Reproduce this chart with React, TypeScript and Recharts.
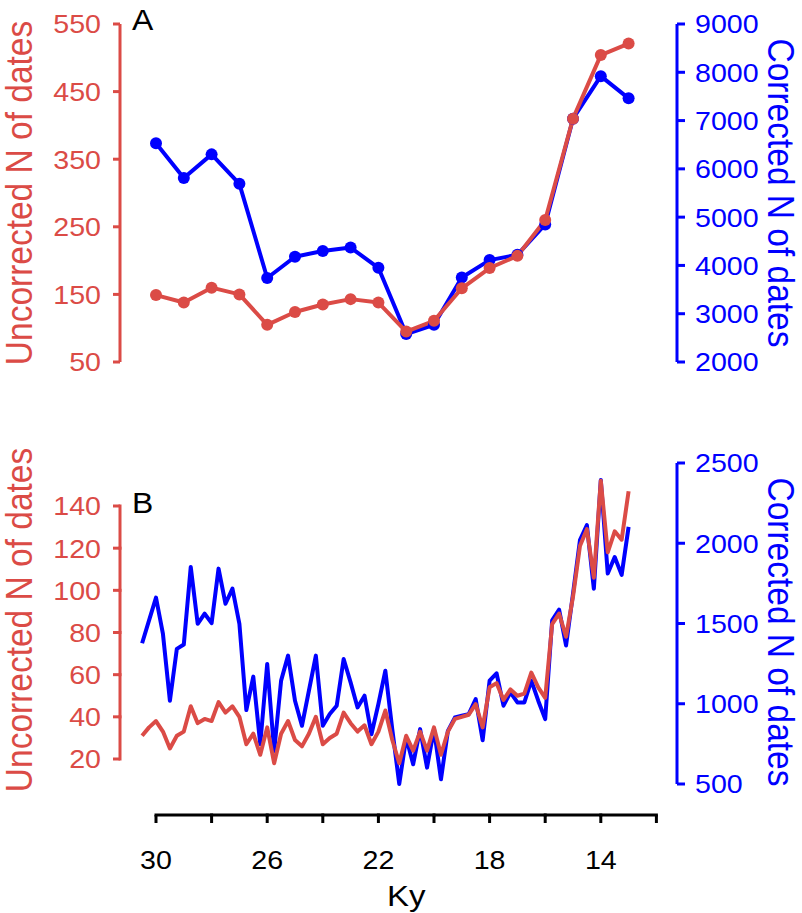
import React from 'react';
import { LineChart, Line, XAxis, YAxis, Label } from 'recharts';

// ---------- data ----------
const kyA = [30, 29, 28, 27, 26, 25, 24, 23, 22, 21, 20, 19, 18, 17, 16, 15, 14, 13];
const uncorrectedA = [149, 138, 160, 150, 105, 124, 135, 143, 138, 95, 111, 159, 189, 207, 260, 410, 504, 521];
const correctedA = [6530, 5810, 6300, 5690, 3740, 4180, 4300, 4370, 3950, 2580, 2770, 3750, 4110, 4220, 4850, 7040, 7920, 7460];

const kyB = [
  30.5, 30.25, 30, 29.75, 29.5, 29.25, 29, 28.75, 28.5, 28.25, 28, 27.75, 27.5, 27.25, 27, 26.75, 26.5, 26.25,
  26, 25.75, 25.5, 25.25, 25, 24.75, 24.5, 24.25, 24, 23.75, 23.5, 23.25, 23, 22.75, 22.5, 22.25, 22, 21.75,
  21.5, 21.25, 21, 20.75, 20.5, 20.25, 20, 19.75, 19.5, 19.25, 19, 18.75, 18.5, 18.25, 18, 17.75, 17.5, 17.25,
  17, 16.75, 16.5, 16.25, 16, 15.75, 15.5, 15.25, 15, 14.75, 14.5, 14.25, 14, 13.75, 13.5, 13.25, 13,
];
const uncorrectedB = [
  31, 35, 38, 33, 25, 31, 33, 45, 37, 39, 38, 47, 42, 45, 40, 27, 32, 22,
  35, 18, 32, 38, 29, 26, 32, 40, 27, 30, 32, 42, 37, 33, 36, 27, 33, 43,
  29, 18, 31, 24, 33, 24, 35, 22, 33, 39, 40, 41, 46, 35, 54, 56, 48, 53,
  50, 51, 61, 54, 49, 84, 89, 78, 97, 121, 129, 106, 152, 118, 128, 124, 147,
];
const correctedB = [
  1377, 1519, 1661, 1435, 1019, 1342, 1369, 1852, 1498, 1561, 1502, 1842, 1623, 1717, 1498, 961, 1169, 748,
  1248, 706, 1144, 1300, 1019, 863, 1081, 1300, 863, 936, 988, 1279, 1133, 977, 1050, 810, 998, 1206,
  840, 500, 790, 623, 842, 602, 842, 529, 831, 914, 925, 935, 1029, 773, 1144, 1190, 988, 1071,
  1008, 1008, 1144, 1019, 904, 1519, 1586, 1363, 1686, 2019, 2113, 1717, 2394, 1811, 1914, 1803, 2102,
];

const leftTicksA = [50, 150, 250, 350, 450, 550];
const rightTicksA = [2000, 3000, 4000, 5000, 6000, 7000, 8000, 9000];
const leftTicksB = [20, 40, 60, 80, 100, 120, 140];
const rightTicksB = [500, 1000, 1500, 2000, 2500];
const kyTicks = [30, 28, 26, 24, 22, 20, 18, 16, 14, 12];
const kyTickLabels = [30, 26, 22, 18, 14];

const dataA = kyA.map((ky, i) => ({ ky, unc: uncorrectedA[i], cor: correctedA[i] }));
const dataB = kyB.map((ky, i) => ({ ky, unc: uncorrectedB[i], cor: correctedB[i] }));

// ---------- style / layout ----------
const RED = '#DB4B46';
const BLUE = '#0000FF';
const FONT = '"Liberation Sans", Arial, Helvetica, sans-serif';
const STRETCH = 1.1;
const TICK_FONT = 26;
const TITLE_FONT = 33.5;
const LETTER_FONT = 29;

const W = 802;
const AXIS_L = 120;
const AXIS_R = 677;
const PAD_L = 22.1;
const PAD_R = 20.6;
const KY_MIN = 12;
const KY_MAX = 30.5;
const PX_PER_KY = (AXIS_R - AXIS_L - PAD_L - PAD_R) / (KY_MAX - KY_MIN);

const H_A = 400;
const TOP_A = 24;
const BOTTOM_A = 38;
const PLOT_H_A = H_A - TOP_A - BOTTOM_A;

const H_B = 513;
const TOP_B = 63;
const BOTTOM_B = 29;
const XAXIS_H = 100;
const PLOT_H_B = H_B - TOP_B - BOTTOM_B - XAXIS_H;
// left axis of panel B only spans part of the plot height
const GAP_TOP_B = 43;
const GAP_BOTTOM_B = 25;
const LEFT_B_MIN = leftTicksB[0];
const LEFT_B_MAX = leftTicksB[leftTicksB.length - 1];
const LEFT_B_UNITS_PER_PX = (LEFT_B_MAX - LEFT_B_MIN) / (PLOT_H_B - GAP_TOP_B - GAP_BOTTOM_B);
const LEFT_B_DOMAIN = [LEFT_B_MIN - GAP_BOTTOM_B * LEFT_B_UNITS_PER_PX, LEFT_B_MAX + GAP_TOP_B * LEFT_B_UNITS_PER_PX];

const TICK_LEN = 7;
const TICK_GAP = 12;
const AXIS_W = 3;
const X_AXIS_DROP = 31;

function SText({ x, y, anchor, fill, size = TICK_FONT, children }: any) {
  return (
    <text
      transform={`translate(${x},${y}) scale(${STRETCH},1)`}
      textAnchor={anchor}
      dy="0.36em"
      fontSize={size}
      fontFamily={FONT}
      fill={fill}
    >
      {children}
    </text>
  );
}

function VText({ cx, cy, rot, fill, children }: any) {
  return (
    <text
      transform={`translate(${cx},${cy}) rotate(${rot}) scale(1,${STRETCH})`}
      textAnchor="middle"
      dy="0.36em"
      fontSize={TITLE_FONT}
      fontFamily={FONT}
      fill={fill}
    >
      {children}
    </text>
  );
}

const leftText = (p: any) => <SText x={p.x} y={p.y} anchor="end" fill={RED}>{p.payload.value}</SText>;
const rightText = (p: any) => <SText x={p.x} y={p.y} anchor="start" fill={BLUE}>{p.payload.value}</SText>;

const leftTickB = (p: any) => {
  const ax = p.x + TICK_LEN + TICK_GAP;
  const step = (PLOT_H_B - GAP_TOP_B - GAP_BOTTOM_B) / (leftTicksB.length - 1);
  const isTop = p.payload.value === LEFT_B_MAX;
  return (
    <g>
      <line x1={ax - TICK_LEN} y1={p.y} x2={ax} y2={p.y} stroke={RED} strokeWidth={AXIS_W} />
      {!isTop && (
        <line x1={ax} y1={p.y + AXIS_W / 2} x2={ax} y2={p.y - step - AXIS_W / 2} stroke={RED} strokeWidth={AXIS_W} />
      )}
      <SText x={p.x} y={p.y} anchor="end" fill={RED}>{p.payload.value}</SText>
    </g>
  );
};

const xTickB = (p: any) => {
  const ay = p.y + X_AXIS_DROP;
  const step = 2 * PX_PER_KY;
  const v = p.payload.value;
  const isFirst = v === kyTicks[0];
  return (
    <g>
      <line x1={p.x} y1={ay} x2={p.x} y2={ay + TICK_LEN + 1} stroke="#000" strokeWidth={AXIS_W} />
      {!isFirst && (
        <line x1={p.x + AXIS_W / 2} y1={ay} x2={p.x - step - AXIS_W / 2} y2={ay} stroke="#000" strokeWidth={AXIS_W} />
      )}
      {kyTickLabels.includes(v) && (
        <SText x={p.x} y={ay + 45} anchor="middle" fill="#000">{v}</SText>
      )}
    </g>
  );
};

export default function App() {
  const xCenter = AXIS_R - PAD_R - ((kyTicks[0] - KY_MIN) * PX_PER_KY) / 2;
  const plotBottomB = TOP_B + PLOT_H_B;
  return (
    <div style={{ position: 'absolute', left: 0, top: 0, width: W, height: 913, background: '#fff' }}>
      <div style={{ position: 'absolute', left: 0, top: 0 }}>
        <LineChart width={W} height={H_A} data={dataA} margin={{ top: TOP_A, bottom: BOTTOM_A, left: 0, right: 0 }}>
          <XAxis
            dataKey="ky"
            type="number"
            domain={[KY_MIN, KY_MAX]}
            reversed
            hide
            padding={{ left: PAD_L, right: PAD_R }}
          />
          <YAxis
            yAxisId="l"
            orientation="left"
            width={AXIS_L}
            type="number"
            domain={[50, 550]}
            ticks={leftTicksA}
            interval={0}
            axisLine={{ stroke: RED, strokeWidth: AXIS_W }}
            tickLine={{ stroke: RED, strokeWidth: AXIS_W }}
            tickSize={TICK_LEN}
            tickMargin={TICK_GAP}
            tick={leftText}
          >
            <Label
              content={() => (
                <g>
                  <VText cx={19} cy={TOP_A + PLOT_H_A / 2} rot={-90} fill={RED}>Uncorrected N of dates</VText>
                  <text fontSize={LETTER_FONT} fontFamily={FONT} fill="#000"
                    transform={`translate(132,30) scale(${STRETCH},1)`}>A</text>
                </g>
              )}
            />
          </YAxis>
          <YAxis
            yAxisId="r"
            orientation="right"
            width={W - AXIS_R}
            type="number"
            domain={[2000, 9000]}
            ticks={rightTicksA}
            interval={0}
            axisLine={{ stroke: BLUE, strokeWidth: AXIS_W }}
            tickLine={{ stroke: BLUE, strokeWidth: AXIS_W }}
            tickSize={8}
            tickMargin={10}
            tick={rightText}
          >
            <Label
              content={() => (
                <VText cx={781} cy={TOP_A + PLOT_H_A / 2} rot={90} fill={BLUE}>Corrected N of dates</VText>
              )}
            />
          </YAxis>
          <Line
            yAxisId="r"
            dataKey="cor"
            stroke={BLUE}
            strokeWidth={4}
            strokeLinejoin="round"
            dot={{ r: 6, fill: BLUE, stroke: BLUE, strokeWidth: 0 }}
            isAnimationActive={false}
          />
          <Line
            yAxisId="l"
            dataKey="unc"
            stroke={RED}
            strokeWidth={4}
            strokeLinejoin="round"
            dot={{ r: 6, fill: RED, stroke: RED, strokeWidth: 0 }}
            isAnimationActive={false}
          />
        </LineChart>
      </div>
      <div style={{ position: 'absolute', left: 0, top: H_A }}>
        <LineChart width={W} height={H_B} data={dataB} margin={{ top: TOP_B, bottom: BOTTOM_B, left: 0, right: 0 }}>
          <XAxis
            dataKey="ky"
            type="number"
            domain={[KY_MIN, KY_MAX]}
            reversed
            padding={{ left: PAD_L, right: PAD_R }}
            ticks={kyTicks}
            interval={0}
            height={XAXIS_H}
            axisLine={false}
            tickLine={false}
            tickSize={0}
            tickMargin={0}
            tick={xTickB}
          >
            <Label
              content={() => (
                <SText x={xCenter} y={plotBottomB + 111} anchor="middle" fill="#000" size={30}>Ky</SText>
              )}
            />
          </XAxis>
          <YAxis
            yAxisId="l"
            orientation="left"
            width={AXIS_L}
            type="number"
            domain={LEFT_B_DOMAIN}
            ticks={leftTicksB}
            interval={0}
            axisLine={false}
            tickLine={false}
            tickSize={TICK_LEN}
            tickMargin={TICK_GAP}
            tick={leftTickB}
          >
            <Label
              content={() => (
                <g>
                  <VText cx={19} cy={220} rot={-90} fill={RED}>Uncorrected N of dates</VText>
                  <text fontSize={LETTER_FONT} fontFamily={FONT} fill="#000"
                    transform={`translate(132,113) scale(${STRETCH},1)`}>B</text>
                </g>
              )}
            />
          </YAxis>
          <YAxis
            yAxisId="r"
            orientation="right"
            width={W - AXIS_R}
            type="number"
            domain={[500, 2500]}
            ticks={rightTicksB}
            interval={0}
            axisLine={{ stroke: BLUE, strokeWidth: AXIS_W }}
            tickLine={{ stroke: BLUE, strokeWidth: AXIS_W }}
            tickSize={8}
            tickMargin={10}
            tick={rightText}
          >
            <Label
              content={() => (
                <VText cx={781} cy={232} rot={90} fill={BLUE}>Corrected N of dates</VText>
              )}
            />
          </YAxis>
          <Line
            yAxisId="r"
            dataKey="cor"
            stroke={BLUE}
            strokeWidth={4}
            strokeLinejoin="round"
            dot={false}
            isAnimationActive={false}
          />
          <Line
            yAxisId="l"
            dataKey="unc"
            stroke={RED}
            strokeWidth={4}
            strokeLinejoin="round"
            dot={false}
            isAnimationActive={false}
          />
        </LineChart>
      </div>
    </div>
  );
}
